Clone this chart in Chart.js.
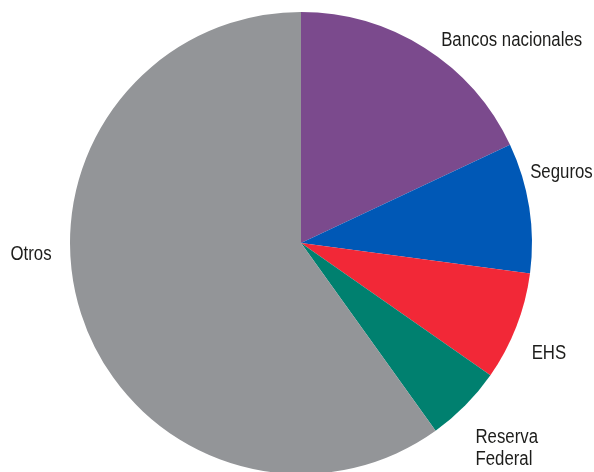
<!DOCTYPE html>
<html>
<head>
<meta charset="utf-8">
<script src="https://cdn.jsdelivr.net/npm/chart.js@4"></script>
<style>
  html, body { margin: 0; padding: 0; background: #fff; }
  #wrap { width: 594px; height: 472px; }
</style>
</head>
<body>
<div id="wrap"><canvas id="chart" width="594" height="472"></canvas></div>
<script>
const sectors = ['Bancos nacionales', 'Seguros', 'EHS', 'Reserva Federal', 'Otros'];
const shares = [18, 9.1, 7.6, 5.4, 59.9];
const sliceColors = ['#7b4a8d', '#0058b6', '#f22837', '#00806f', '#939598'];
// label text (lines) and a small shift away from the slice midpoint
const labelLines = [['Bancos nacionales'], ['Seguros'], ['EHS'], ['Reserva', 'Federal'], ['Otros']];
const labelShift = [[11, 6], [-9, -28], [6, 29], [3, 31], [-20, -57]];

const sliceLabels = {
    id: 'sliceLabels',
    afterDatasetsDraw(chart) {
        const ctx = chart.ctx;
        const arcs = chart.getDatasetMeta(0).data;
        ctx.save();
        ctx.font = '20px "Liberation Sans", Arial, sans-serif';
        ctx.fillStyle = '#1d1d1b';
        ctx.textBaseline = 'alphabetic';
        arcs.forEach(function (arc, i) {
            const mid = (arc.startAngle + arc.endAngle) / 2;
            const r = arc.outerRadius + 10;
            const x = arc.x + Math.cos(mid) * r + labelShift[i][0];
            const y = arc.y + Math.sin(mid) * r + labelShift[i][1];
            ctx.textAlign = Math.cos(mid) >= 0 ? 'left' : 'right';
            labelLines[i].forEach(function (line, k) {
                // narrow the glyphs to get a condensed face
                ctx.save();
                ctx.translate(x, y + k * 22);
                ctx.scale(0.84, 1);
                ctx.fillText(line, 0, 0);
                ctx.restore();
            });
        });
        ctx.restore();
    }
};

new Chart(document.getElementById('chart'), {
    type: 'pie',
    data: {
        labels: sectors,
        datasets: [{
            data: shares,
            backgroundColor: sliceColors,
            borderWidth: 0
        }]
    },
    options: {
        responsive: false,
        animation: false,
        radius: 231,
        layout: { padding: { left: 70, right: 62, top: 14, bottom: 0 } },
        plugins: {
            legend: { display: false },
            tooltip: { enabled: false }
        }
    },
    plugins: [sliceLabels]
});
</script>
</body>
</html>
